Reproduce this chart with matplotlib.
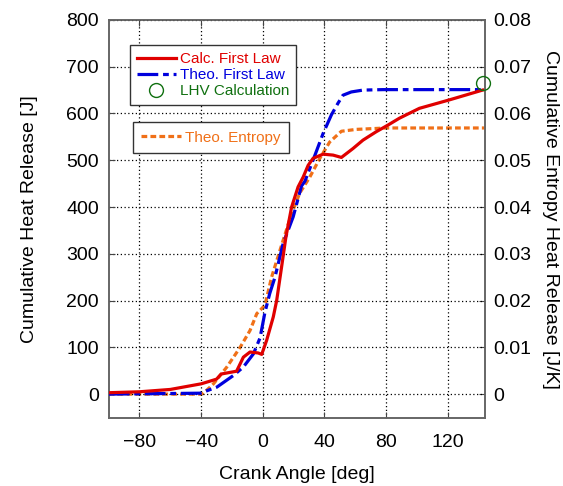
import numpy as np
import matplotlib
matplotlib.use("Agg")
import matplotlib.pyplot as plt
from matplotlib.lines import Line2D

plt.rcParams['font.family'] = ['Liberation Sans', 'DejaVu Sans']

# Calc. First Law (J)
calc_x = [-100, -80, -60, -40, -30, -27, -17, -12.6, -8.3, -3, -0.7, 2.5, 6.8, 9, 12.2, 15, 18.7, 22.9, 26.2, 29.4, 32.6, 39.1, 45.6, 51, 58.5, 65, 73.6, 81.1, 88.7, 101.6, 121, 142.6]
calc_y = [3, 5, 10, 22, 32, 43, 49, 79, 90, 88, 85, 115, 165, 200, 272, 336, 400, 443, 464, 489, 504, 513, 511, 506, 525, 543, 561, 575, 590, 611, 629, 650]

# Theo. First Law (J)
theo_x = [-100, -40.6, -29.8, -19, -12.6, -6.1, -1.8, 1.4, 4.5, 7.9, 13.2, 19.7, 25.1, 27.3, 32.6, 39.1, 44.5, 48.8, 52, 57.4, 65, 78, 100, 142.6]
theo_y = [0, 2, 15, 40, 58, 86, 120, 175, 215, 250, 322, 379, 445, 455, 500, 557, 597, 622, 639, 646, 650, 651, 651, 651]

# Theo. Entropy (J/K)
ent_x = [-100, -40, -38.4, -32, -23.3, -14.7, -8.3, -3.9, 1.4, 5.7, 11.1, 18.7, 24, 30.5, 37, 43.4, 51, 60.7, 80, 144]
ent_y = [0, 0, 0.0002, 0.0022, 0.0058, 0.0100, 0.0136, 0.0172, 0.0190, 0.0250, 0.0307, 0.0386, 0.0430, 0.0464, 0.0504, 0.0539, 0.0562, 0.0566, 0.0569, 0.0569]

# LHV calculation point
lhv_x = [142.6]
lhv_y = [666]

fig = plt.figure(figsize=(5.63, 4.86), dpi=100)
ax = fig.add_axes([0.193, 0.139, 0.668, 0.820])
ax2 = ax.twinx()

red = '#e00000'
blue = '#0000dd'
orange = '#f07018'
green = '#107010'
blue_ls = (0, (6.5, 1.5, 1.8, 1.5))
orange_ls = (0, (1.8, 1.0))
LW = 2.3

ax2.plot(ent_x, ent_y, color=orange, lw=LW, linestyle=orange_ls, zorder=2)
ax.plot(theo_x, theo_y, color=blue, lw=LW, linestyle=blue_ls, zorder=3)
ax.plot(calc_x, calc_y, color=red, lw=LW, zorder=4)
ax.plot(lhv_x, lhv_y, 'o', mfc='none', mec=green, ms=10, mew=1.0, zorder=5, clip_on=False)

ax.set_zorder(ax2.get_zorder() + 1)
ax.patch.set_visible(False)

ax.set_xlim(-100, 144)
ax.set_ylim(-52, 800)
ax2.set_ylim(-0.0052, 0.08)
ax.set_xticks([-80, -40, 0, 40, 80, 120])
ax.set_yticks(range(0, 801, 100))
ax2.set_yticks([0, 0.01, 0.02, 0.03, 0.04, 0.05, 0.06, 0.07, 0.08])
ax2.set_yticklabels(['0', '0.01', '0.02', '0.03', '0.04', '0.05', '0.06', '0.07', '0.08'])

FS = 14
ax.grid(True, color='black', linestyle=(0, (1, 2)), linewidth=0.9)
ax.tick_params(axis='y', direction='in', labelsize=FS, length=4, pad=7, colors='#444444', labelcolor='black')
ax.tick_params(axis='x', direction='in', labelsize=FS, top=True, length=4, pad=11, colors='#444444', labelcolor='black')
ax2.tick_params(direction='in', labelsize=FS, length=4, pad=6, colors='#444444', labelcolor='black')
for a in (ax, ax2):
    for s in a.spines.values():
        s.set_color('#666666')
        s.set_linewidth(1.2)

ax.set_xlabel('Crank Angle [deg]', fontsize=FS, labelpad=11)
ax.set_ylabel('Cumulative Heat Release [J]', fontsize=FS, labelpad=20)
ax2.set_ylabel('Cumulative Entropy Heat Release [J/K]', fontsize=FS, rotation=270, labelpad=20)

h1 = [Line2D([], [], color=red, lw=LW),
      Line2D([], [], color=blue, lw=LW, linestyle=blue_ls),
      Line2D([], [], marker='o', mfc='none', mec=green, ms=10, ls='none')]
leg1 = ax.legend(h1, ['Calc. First Law', 'Theo. First Law', 'LHV Calculation'],
                 loc='upper left', bbox_to_anchor=(0.056, 0.937), fontsize=11,
                 fancybox=False, edgecolor='#333333', framealpha=1,
                 handlelength=2.6, handletextpad=0.25, labelspacing=0.15,
                 borderpad=0.45, borderaxespad=0)
leg1.get_frame().set_linewidth(1.0)
for t, c in zip(leg1.get_texts(), [red, blue, green]):
    t.set_color(c)
ax.add_artist(leg1)

h2 = [Line2D([], [], color=orange, lw=LW, linestyle=orange_ls)]
leg2 = ax.legend(h2, ['Theo. Entropy'], loc='upper left', bbox_to_anchor=(0.064, 0.743),
                 fontsize=11, fancybox=False, edgecolor='#333333', framealpha=1,
                 handlelength=2.6, handletextpad=0.25, borderpad=0.55, borderaxespad=0)
leg2.get_frame().set_linewidth(1.0)
leg2.get_texts()[0].set_color(orange)

fig.savefig('out.png', dpi=100)
